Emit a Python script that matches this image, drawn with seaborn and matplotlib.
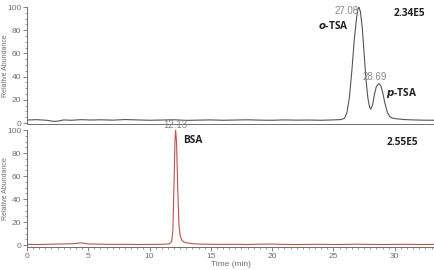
import pandas as pd
import seaborn as sns
import matplotlib.pyplot as plt
from matplotlib.ticker import MultipleLocator

# top trace (TSA isomers), time in min / relative abundance in %
tsa_time = [0.0, 0.8, 1.6, 2.2, 2.6, 3.0, 3.6, 4.4, 5.2, 6.0, 7.0, 8.0, 9.0, 10.0,
            11.0, 12.0, 13.0, 14.0, 15.0, 16.0, 17.0, 18.0, 19.0, 20.0, 21.0, 22.0,
            23.0, 24.0, 25.0, 25.6, 25.9, 26.1, 26.3, 26.5, 26.7, 26.9, 27.0, 27.08,
            27.2, 27.35, 27.5, 27.65, 27.8, 27.95, 28.05, 28.2, 28.35, 28.5, 28.69,
            28.85, 29.0, 29.2, 29.4, 29.6, 29.8, 30.2, 30.8, 31.5, 32.2, 33.2]
tsa_abund = [2.6, 2.9, 2.4, 1.4, 1.8, 2.7, 2.4, 2.9, 2.6, 2.8, 2.5, 3.0, 2.7, 2.4,
             2.6, 2.8, 2.3, 2.5, 2.7, 2.4, 2.6, 2.8, 2.5, 2.4, 2.7, 2.5,
             2.6, 2.4, 2.7, 3.0, 4.0, 9.0, 22.0, 45.0, 72.0, 92.0, 98.0, 100.0,
             96.0, 82.0, 60.0, 38.0, 22.0, 13.5, 12.0, 16.0, 25.0, 31.5, 34.0,
             32.5, 27.0, 17.0, 9.0, 5.5, 4.2, 3.6, 3.0, 2.7, 2.5, 2.4]

# bottom trace (BSA)
bsa_time = [0.0, 1.0, 2.0, 3.0, 3.8, 4.4, 5.0, 6.0, 7.0, 8.0, 9.0, 10.0, 11.0,
            11.6, 11.8, 11.9, 12.0, 12.08, 12.13, 12.2, 12.3, 12.4, 12.5, 12.65,
            12.8, 13.0, 13.5, 14.0, 15.0, 16.0, 17.0, 18.0, 19.0, 20.0, 21.0, 22.0,
            23.0, 24.0, 25.0, 26.0, 27.0, 28.0, 29.0, 30.0, 31.0, 32.0, 33.2]
bsa_abund = [0.6, 0.5, 0.8, 1.0, 1.2, 2.0, 1.0, 0.8, 0.6, 0.7, 0.5, 0.6, 0.7,
             1.0, 3.0, 12.0, 55.0, 92.0, 100.0, 90.0, 50.0, 18.0, 8.0, 4.0,
             2.8, 2.0, 1.2, 0.9, 0.7, 0.6, 0.7, 0.5, 0.8, 0.9, 0.6, 0.5,
             0.6, 0.7, 0.5, 0.6, 0.8, 0.6, 0.5, 0.6, 0.7, 0.5, 0.6]

tsa_df = pd.DataFrame({"time": tsa_time, "abund": tsa_abund})
bsa_df = pd.DataFrame({"time": bsa_time, "abund": bsa_abund})

sns.set_style("ticks")
plt.rcParams["font.family"] = ["Liberation Sans", "DejaVu Sans"]

fig = plt.figure(figsize=(4.34, 2.70), dpi=100)
ax1 = fig.add_axes([0.062, 0.540, 0.938, 0.434])
ax2 = fig.add_axes([0.062, 0.085, 0.938, 0.433])

gray = "#6e6e6e"
sns.lineplot(data=tsa_df, x="time", y="abund", ax=ax1, color="#555555", linewidth=0.8)
sns.lineplot(data=bsa_df, x="time", y="abund", ax=ax2, color="#c0504d", linewidth=0.8)

for ax, lo in [(ax1, -1), (ax2, -1.7)]:
    ax.set_xlim(0, 33.2)
    ax.set_ylim(lo, 100)
    ax.yaxis.set_major_locator(MultipleLocator(20))
    ax.yaxis.set_minor_locator(MultipleLocator(5))
    ax.xaxis.set_major_locator(MultipleLocator(5))
    ax.xaxis.set_minor_locator(MultipleLocator(0.5))
    for s in ["top", "right"]:
        ax.spines[s].set_visible(False)
    for s in ["left", "bottom"]:
        ax.spines[s].set_color(gray)
        ax.spines[s].set_linewidth(0.7)
    ax.tick_params(axis="both", which="major", length=3, width=0.6, colors=gray,
                   labelsize=6, pad=1)
    ax.tick_params(axis="both", which="minor", length=1.5, width=0.5, colors=gray)
    ax.set_ylabel("Relative Abundance", fontsize=5, color=gray)
    ax.yaxis.set_label_coords(-0.045, 0.5)
    ax.set_facecolor("white")

ax1.tick_params(axis="x", which="both", length=0, labelbottom=False)
ax1.set_xlabel("")
ax2.set_xlabel("Time (min)", fontsize=6, color=gray, labelpad=1)

bold = dict(fontweight="bold", fontsize=7.3, color="#222222", family=["Open Sans", "DejaVu Sans"])
num = dict(fontsize=7, color="#888888")

ax1.text(27.08, 101, "27.08", ha="right", va="top", **num)
ax1.text(23.7, 84, r"$\bfit{o}$-TSA", ha="left", va="center", **bold)
ax1.text(29.9, 94, "2.34E5", ha="left", va="center", **bold)
ax1.text(28.35, 35, "28.69", ha="center", va="bottom", **num)
ax1.text(29.3, 26, r"$\bfit{p}$-TSA", ha="left", va="center", **bold)

ax2.text(12.13, 100.5, "12.13", ha="center", va="bottom", **num)
ax2.text(12.75, 91, "BSA", ha="left", va="center", **bold)
ax2.text(29.35, 89, "2.55E5", ha="left", va="center", **bold)

fig.savefig("out.png", dpi=100)
